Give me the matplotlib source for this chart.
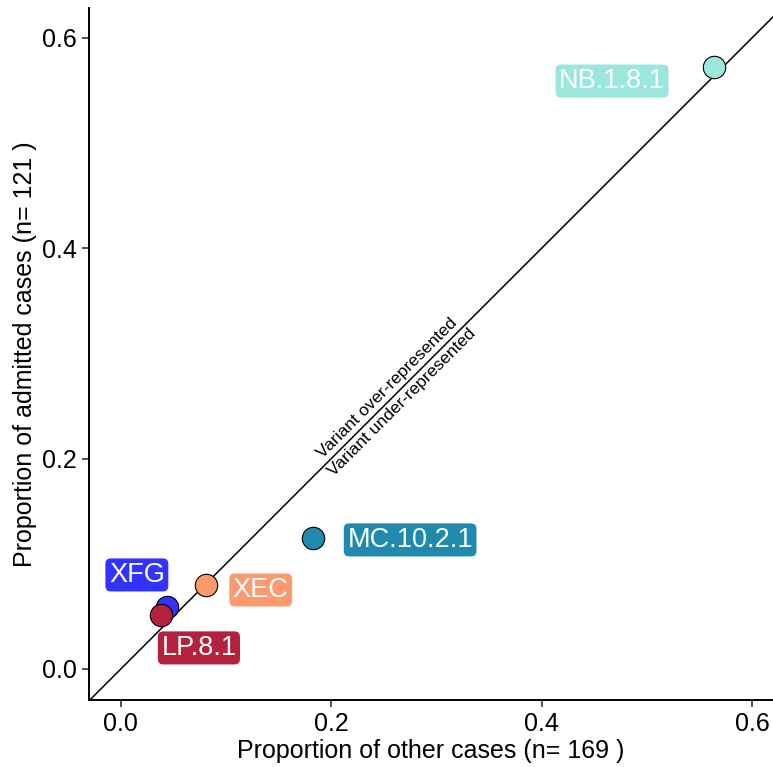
import matplotlib
matplotlib.use("Agg")
import matplotlib.pyplot as plt

plt.rcParams['font.family'] = ['Liberation Sans', 'DejaVu Sans']

variants = ["NB.1.8.1", "MC.10.2.1", "XEC", "XFG", "LP.8.1"]
prop_other = [0.564, 0.1826, 0.0808, 0.0437, 0.038]
prop_admitted = [0.572, 0.1246, 0.0799, 0.059, 0.051]
colors = ["#9BE7DE", "#1F8AAE", "#FC9A6E", "#3333FF", "#B5203F"]
label_x = [0.467, 0.275, 0.133, 0.0152, 0.0742]
label_y = [0.559, 0.1227, 0.0751, 0.0894, 0.020]

fig = plt.figure(figsize=(7.73, 7.67), dpi=100)
ax = fig.add_axes([0.115, 0.0874, 0.885, 0.9022])

xmin, xmax = -0.0304, 0.62
ymin, ymax = -0.0295, 0.6285
ax.plot([-1, 1], [-1, 1], color="black", lw=1.1, zorder=1)

for v, x, y, c, lx, ly in zip(variants, prop_other, prop_admitted, colors, label_x, label_y):
    ax.scatter([x], [y], s=260, color=c, edgecolor="black", linewidth=0.8, zorder=3)
    ax.text(lx, ly, v, ha="center", va="center", fontsize=19.5, color="white", zorder=4,
            bbox=dict(boxstyle="round,pad=0.13,rounding_size=0.2", facecolor=c, edgecolor="none"))

ax.annotate("Variant over-represented", xy=(0.26, 0.26), xytext=(-1.5, 1.5),
            textcoords="offset points", rotation=45, rotation_mode="anchor",
            ha="center", va="bottom", fontsize=12.5)
ax.annotate("Variant under-represented", xy=(0.26, 0.26), xytext=(1.5, -1.5),
            textcoords="offset points", rotation=45, rotation_mode="anchor",
            ha="center", va="top", fontsize=12.5)

ax.set_xlim(xmin, xmax)
ax.set_ylim(ymin, ymax)
ax.set_xticks([0.0, 0.2, 0.4, 0.6])
ax.set_yticks([0.0, 0.2, 0.4, 0.6])
ax.set_xticklabels(["0.0", "0.2", "0.4", "0.6"])
ax.set_yticklabels(["0.0", "0.2", "0.4", "0.6"])
ax.tick_params(axis="both", labelsize=18, length=5, width=1.2, color="#333333", labelcolor="black")
ax.spines["top"].set_visible(False)
ax.spines["right"].set_visible(False)
ax.spines["left"].set_linewidth(1.4)
ax.spines["bottom"].set_linewidth(1.4)
ax.set_xlabel("Proportion of other cases (n= 169 )", fontsize=18, labelpad=2)
ax.set_ylabel("Proportion of admitted cases (n= 121 )", fontsize=18, labelpad=4)

fig.savefig("out.png", dpi=100)
